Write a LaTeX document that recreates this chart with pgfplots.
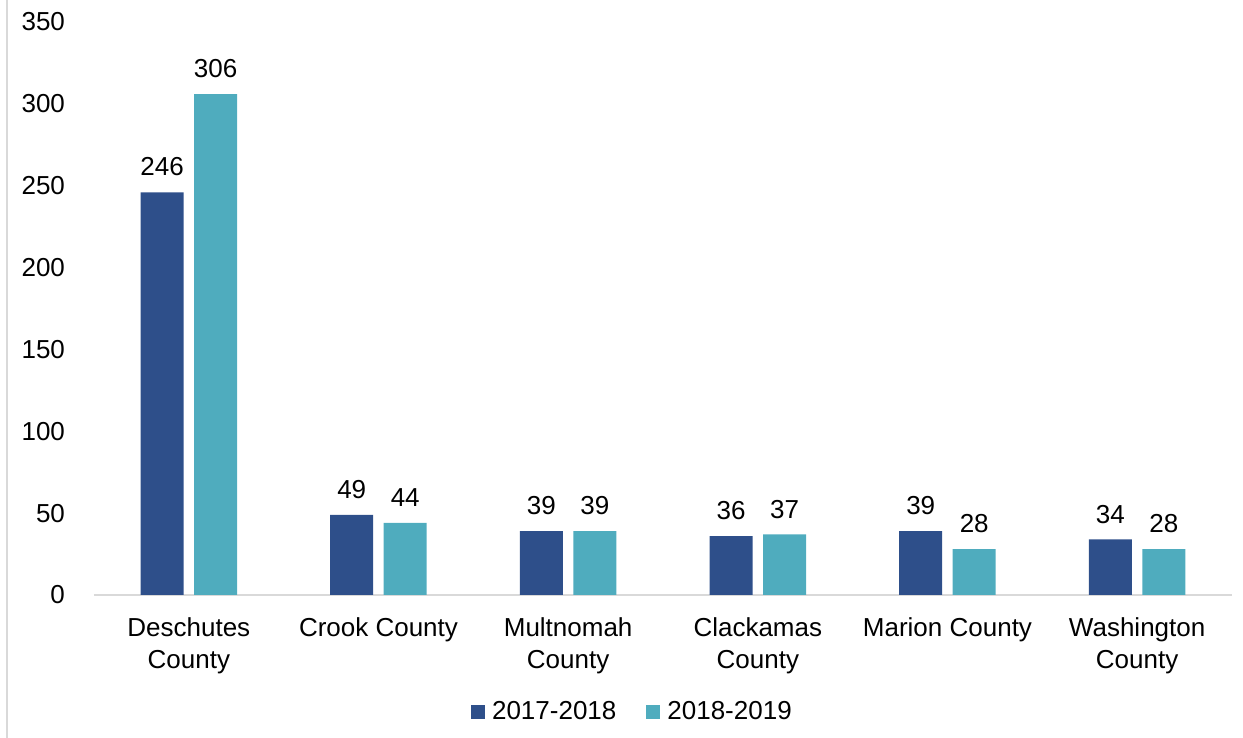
\documentclass[border=0pt]{standalone}
\usepackage{fontspec}
\setmainfont{Liberation Sans}
\usepackage{pgfplots}
\pgfplotsset{compat=1.18}
\definecolor{cA}{HTML}{2E4F8A}
\definecolor{cB}{HTML}{4FACBE}
\definecolor{cLine}{HTML}{D9D9D9}
\begin{document}
\fontsize{13}{15}\selectfont
\begin{tikzpicture}
\path[use as bounding box] (0,0) rectangle (621.5pt,369pt);
\draw[color=cLine, line width=1pt] (3.5pt,0) -- (3.5pt,369pt);
\begin{axis}[
  at={(47pt,71.5pt)}, anchor=south west,
  scale only axis, width=569pt, height=286.5pt,
  ybar=5.25pt, bar width=21.5pt,
  xmin=-0.5, xmax=5.5, ymin=0, ymax=350,
  xtick=data,
  xticklabels={Deschutes\\County, Crook County, Multnomah\\County, Clackamas\\County, Marion County, Washington\\County},
  ytick={0,50,...,350},
  axis x line*=bottom, axis y line*=left,
  x axis line style={-, draw=cLine, line width=1pt},
  y axis line style={draw=none},
  tick style={draw=none},
  major tick length=0pt,
  /pgf/number format/assume math mode=true,
  ticklabel style={font=\fontsize{13}{16}\selectfont},
  yticklabel style={xshift=-10pt},
  xticklabel style={align=center, yshift=-7pt},
  nodes near coords,
  nodes near coords style={font=\fontsize{13}{15}\selectfont, yshift=3.5pt},
  legend style={at={(0.474,-0.205)}, anchor=center, draw=none, fill=none,
    legend columns=2, font=\fontsize{13}{15}\selectfont,
    /tikz/every even column/.append style={column sep=13pt}},
  legend image code/.code={\fill[#1] (0pt,-3.5pt) rectangle (7pt,3.5pt); \path (8.5pt,0pt);},
]
\addplot[fill=cA, draw=none] coordinates {(0,246) (1,49) (2,39) (3,36) (4,39) (5,34)};
\addplot[fill=cB, draw=none] coordinates {(0,306) (1,44) (2,39) (3,37) (4,28) (5,28)};
\legend{2017-2018, 2018-2019}
\end{axis}
\end{tikzpicture}
\end{document}
